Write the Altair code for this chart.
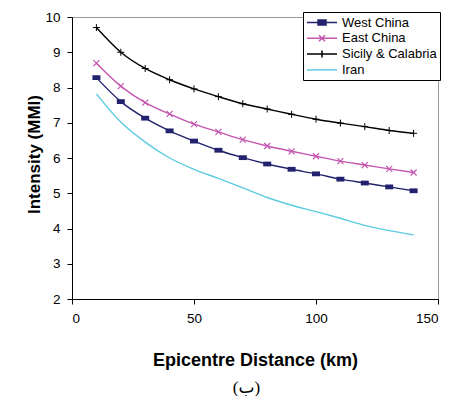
import altair as alt
import pandas as pd

distance = [10, 20, 30, 40, 50, 60, 70, 80, 90, 100, 110, 120, 130, 140]
west_china = [8.28, 7.60, 7.13, 6.77, 6.48, 6.22, 6.01, 5.83, 5.68, 5.55, 5.40, 5.29, 5.18, 5.07]
east_china = [8.69, 8.04, 7.57, 7.25, 6.96, 6.74, 6.52, 6.34, 6.19, 6.05, 5.91, 5.80, 5.69, 5.59]
sicily = [9.70, 9.00, 8.54, 8.22, 7.96, 7.74, 7.54, 7.39, 7.24, 7.10, 6.99, 6.89, 6.78, 6.70]
iran = [7.82, 7.02, 6.45, 6.00, 5.68, 5.42, 5.15, 4.88, 4.66, 4.48, 4.29, 4.09, 3.94, 3.82]

series_names = ["West China", "East China", "Sicily & Calabria", "Iran"]
series_colors = ["#22226e", "#c456b0", "#000000", "#5ccbe0"]
x_ticks = [0, 50, 100, 150]
y_ticks = [2, 3, 4, 5, 6, 7, 8, 9, 10]

rows = []
for name, vals in zip(series_names, [west_china, east_china, sicily, iran]):
    for d, v in zip(distance, vals):
        rows.append({"series": name, "distance": d, "intensity": v})
df = pd.DataFrame(rows)

FONT = "Liberation Sans"

# legend symbol paths (line + marker), unit = 6.5 px
leg_line = "M-1,0H3.615"
sq = "M0.695,-0.385H1.925V0.385H0.695Z"
for yy in (-0.23, -0.08, 0.08, 0.23):
    sq += f"M0.695,{yy}H1.925"
leg_paths = [
    leg_line + sq,
    leg_line + "M0.85,-0.46L1.77,0.46M0.85,0.46L1.77,-0.46",
    leg_line + "M1.31,-0.54V0.54",
    leg_line,
]

x_enc = alt.X(
    "distance:Q",
    scale=alt.Scale(domain=[0, 150], nice=False),
    axis=alt.Axis(
        values=x_ticks, title="Epicentre Distance (km)", titleX=183, titleY=66,
        titleBaseline="alphabetic", titleAnchor="middle", titleAlign="center",
        titleFontSize=18,
    ),
)
y_enc = alt.Y(
    "intensity:Q",
    scale=alt.Scale(domain=[2, 10], nice=False, zero=False),
    axis=alt.Axis(
        values=y_ticks, title="Intensity (MMI)", titleX=-33, titleY=137,
        titleAngle=270, titleBaseline="alphabetic", titleAlign="center",
        titleFontSize=17,
    ),
)

color_scale = alt.Scale(domain=series_names, range=series_colors)


def make_legend():
    return alt.Legend(
        title=None,
        orient="none",
        legendX=231,
        legendY=-5,
        padding=3,
        fillColor="white",
        strokeColor="black",
        symbolSize=169,
        symbolStrokeWidth=1.5,
        symbolOpacity=1,
        symbolFillColor="transparent",
        labelOffset=21,
        rowPadding=0.8,
        labelFont=FONT,
        labelFontSize=13,
        labelColor="black",
        labelLimit=200,
    )


color_enc = alt.Color("series:N", scale=color_scale, sort=series_names, legend=make_legend())

lines = alt.Chart(df).mark_line(strokeWidth=1.4, interpolate="monotone").encode(
    color=color_enc,
)

# invisible carrier layer that only supplies the legend (line + marker symbols)
legend_carrier = alt.Chart(df).mark_point(opacity=0, filled=False).encode(
    color=color_enc,
    shape=alt.Shape(
        "series:N",
        scale=alt.Scale(domain=series_names, range=leg_paths),
        sort=series_names,
        legend=make_legend(),
    ),
)

wc_pts = alt.Chart(df).transform_filter(alt.datum.series == "West China").mark_point(
    shape="M-1,-0.6H1V0.6H-1Z", size=64, filled=True, color=series_colors[0], opacity=1
)

ec_pts = alt.Chart(df).transform_filter(alt.datum.series == "East China").mark_point(
    shape="M-1,-1L1,1M-1,1L1,-1", size=36, filled=False, color=series_colors[1],
    strokeWidth=1.2, opacity=1
)

sc_pts = alt.Chart(df).transform_filter(alt.datum.series == "Sicily & Calabria").mark_point(
    shape="M-1,0H1M0,-1V1", size=49, filled=False, color=series_colors[2],
    strokeWidth=1, opacity=1
)

chart = alt.layer(lines, legend_carrier, wc_pts, ec_pts, sc_pts).encode(
    x=x_enc, y=y_enc
).properties(
    width=366,
    height=282,
    autosize=alt.AutoSizeParams(type="none"),
    padding={"left": 64, "top": 9, "right": 5, "bottom": 97},
    title=alt.TitleParams(
        "(ب)", orient="bottom", frame="group", offset=11, dx=-8.5,
        fontSize=17, font="Liberation Serif, DejaVu Sans", fontWeight="normal",
        color="black", anchor="middle", baseline="top",
    ),
).configure_view(
    stroke="#999999", strokeWidth=1
).configure_axis(
    grid=False,
    domainColor="black",
    domainWidth=1,
    tickColor="black",
    tickSize=5,
    labelFont=FONT,
    labelFontSize=13.5,
    labelColor="black",
    labelPadding=7,
    titleFont=FONT,
    titleFontWeight="bold",
    titleColor="black",
)

chart.save("out.html", embed_options={"renderer": "svg", "actions": False})
